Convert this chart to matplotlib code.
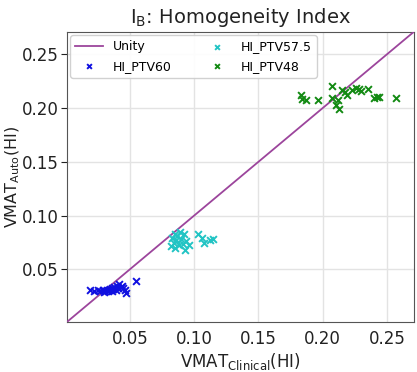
import numpy as np
import matplotlib
matplotlib.use('Agg')
import matplotlib.pyplot as plt

# HI values: clinical (x) vs auto (y)
ptv60_clin = [0.019, 0.022, 0.025, 0.027, 0.029, 0.030, 0.031, 0.032, 0.033, 0.034,
              0.035, 0.036, 0.036, 0.037, 0.038, 0.039, 0.040, 0.041, 0.042, 0.043,
              0.044, 0.045, 0.046, 0.047, 0.055]
ptv60_auto = [0.031, 0.030, 0.031, 0.030, 0.031, 0.029, 0.030, 0.031, 0.030, 0.031,
              0.032, 0.030, 0.033, 0.032, 0.034, 0.031, 0.035, 0.033, 0.036, 0.034,
              0.035, 0.033, 0.031, 0.028, 0.039]

ptv575_clin = [0.082, 0.083, 0.084, 0.085, 0.085, 0.086, 0.087, 0.088, 0.089, 0.090,
               0.091, 0.092, 0.093, 0.094, 0.096, 0.103, 0.106, 0.108, 0.112, 0.115]
ptv575_auto = [0.072, 0.079, 0.075, 0.083, 0.070, 0.077, 0.081, 0.073, 0.085, 0.078,
               0.074, 0.083, 0.068, 0.076, 0.073, 0.083, 0.079, 0.075, 0.077, 0.078]

ptv48_clin = [0.183, 0.184, 0.187, 0.196, 0.207, 0.207, 0.210, 0.212, 0.213, 0.215,
              0.217, 0.219, 0.223, 0.226, 0.228, 0.230, 0.235, 0.240, 0.242, 0.244,
              0.257]
ptv48_auto = [0.212, 0.208, 0.207, 0.207, 0.220, 0.209, 0.203, 0.207, 0.199, 0.217,
              0.215, 0.212, 0.217, 0.219, 0.218, 0.216, 0.218, 0.209, 0.210, 0.210,
              0.209]

lims = [0.001, 0.271]

fig = plt.figure(figsize=(4.17, 3.72), dpi=100)
ax = fig.add_axes([0.160, 0.134, 0.833, 0.781])

ax.plot(lims, lims, color='#9c459c', lw=1.3, label='Unity', zorder=3)
ax.scatter(ptv60_clin, ptv60_auto, marker='x', color='#1010e0', s=24, lw=1.4, label='HI_PTV60', zorder=4)
ax.scatter(ptv575_clin, ptv575_auto, marker='x', color='#22c4c4', s=24, lw=1.4, label='HI_PTV57.5', zorder=4)
ax.scatter(ptv48_clin, ptv48_auto, marker='x', color='#138a13', s=24, lw=1.4, label='HI_PTV48', zorder=4)

ax.set_xlim(lims)
ax.set_ylim(lims)
ax.set_xticks([0.05, 0.10, 0.15, 0.20, 0.25])
ax.set_yticks([0.05, 0.10, 0.15, 0.20, 0.25])
ax.grid(True, color='#e3e3e3', lw=1)
ax.set_axisbelow(True)
for s in ax.spines.values():
    s.set_color('#555555')
ax.tick_params(axis='x', length=0, labelsize=12, colors='#222222', pad=6)
ax.tick_params(axis='y', length=4, labelsize=12, colors='#222222', pad=2)

ax.set_xlabel(r'VMAT$_{\mathrm{Clinical}}$(HI)', fontsize=12, color='#222222', labelpad=2)
ax.set_ylabel(r'VMAT$_{\mathrm{Auto}}$(HI)', fontsize=11.5, color='#222222', labelpad=0)
ax.yaxis.set_label_coords(-0.128, 0.5)
ax.set_title(r'I$_{\mathrm{B}}$: Homogeneity Index', fontsize=14, color='#222222', pad=6)

ax.legend(loc='upper left', ncol=2, fontsize=9, markerscale=0.7, columnspacing=2.5,
          handlelength=2.2, borderaxespad=0.3, framealpha=0.9, edgecolor='#cccccc')

fig.savefig('out.png', dpi=100)
